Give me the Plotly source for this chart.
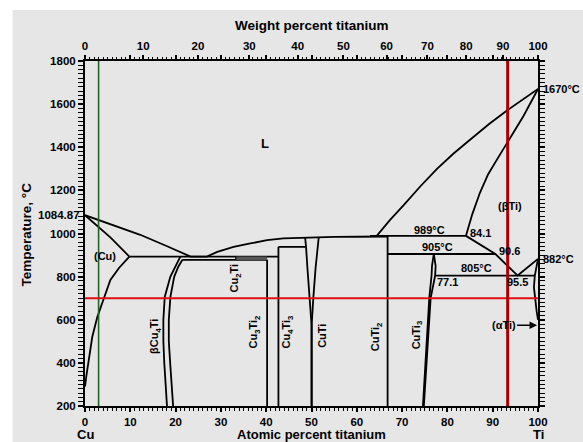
import plotly.graph_objects as go

# ---- Cu–Ti phase boundaries (x: atomic % Ti, t: temperature °C) ----
liq_cu_x = [0, 6, 12.2, 18, 23.3]
liq_cu_t = [1084.87, 1040, 994, 942, 893]

sol_cu_x = [0, 5.6, 9.8]
sol_cu_t = [1084.87, 982, 893]

solv_cu_x = [9.8, 7.5, 5.6, 4.2, 2.7, 1.6, 0.85, 0.3, 0]
solv_cu_t = [893, 840, 785, 705, 612, 520, 427, 340, 290]

liq_mid_x = [23.3, 26.9, 29.2, 32.8, 36.5, 40.2, 43.8, 47.5, 50, 55, 60, 66.8]
liq_mid_t = [893, 893, 915, 938, 954, 969, 977, 980, 982, 984, 985, 986]

liq_ti_x = [64.4, 67.3, 70.3, 74.0, 77.7, 81.3, 85.0, 89.2, 93.45, 96.8, 100]
liq_ti_t = [989, 1062, 1130, 1218, 1300, 1370, 1435, 1508, 1575, 1625, 1670]

sol_ti_x = [84.1, 85.5, 87.2, 89.0, 91.0, 93.3, 96.8, 100]
sol_ti_t = [989, 1090, 1190, 1275, 1345, 1422, 1545, 1670]

beta_x = [84.1, 90.6, 95.5, 100]
beta_t = [989, 905, 805, 882]

alpha_x = [100, 99.3, 99.1, 99.3, 99.7, 100]
alpha_t = [882, 805, 750, 700, 640, 600]

bcu4_l_x = [21.05, 20.0, 18.85, 17.6, 17.3, 17.3, 17.5, 18.1]
bcu4_l_t = [893, 846, 800, 706, 600, 500, 400, 200]
bcu4_r_x = [21.5, 20.6, 19.7, 18.85, 18.5, 18.5, 18.8, 19.45]
bcu4_r_t = [878, 846, 800, 706, 600, 500, 400, 200]

cuti_l_x = [48.6, 48.8, 49.1, 49.6, 50.0, 50.0]
cuti_l_t = [979, 938, 840, 700, 580, 200]
cuti_r_x = [51.6, 51.2, 50.9, 50.4, 50.05, 50.05]
cuti_r_t = [983, 900, 840, 700, 580, 200]

cuti3_l_x = [77.0, 76.6, 76.5, 76.3, 76.0, 74.6]
cuti3_l_t = [905, 850, 805, 760, 700, 200]
cuti3_r_x = [77.0, 77.4, 77.3, 76.9, 76.3, 74.8]
cuti3_r_t = [905, 850, 805, 760, 700, 200]

# isotherms: (x_start, x_end, temperature)
iso_x0 = [9.8, 21.5, 42.7, 62.9, 66.8, 77.3]
iso_x1 = [42.7, 40.2, 48.8, 84.1, 90.6, 99.3]
iso_t = [893, 878, 938, 989, 905, 805]

# line compounds: (x, top temperature)
comp_x = [40.2, 42.7, 66.8]
comp_top = [878, 938, 989]

cu2ti_x = [33.3, 40.2]
cu2ti_t = [885, 885]

# reference lines
green_x = 3.0
red_x = 93.3
red_t = 700

# axes
at_ticks = list(range(0, 101, 10))
wt_ticks = list(range(0, 101, 10))
t_ticks = list(range(200, 1801, 200))
t_cu_melt = 1084.87

M_CU, M_TI = 63.546, 47.867


def wt_to_at(w):
    n_ti = w / M_TI
    n_cu = (100 - w) / M_CU
    return 100 * n_ti / (n_ti + n_cu)


BLACK = dict(color="black", width=1.8)
fig = go.Figure()


def line(x, y, style=BLACK):
    fig.add_trace(go.Scatter(x=x, y=y, mode="lines", line=style,
                             hoverinfo="skip", showlegend=False))


for xs, ts in [(liq_cu_x, liq_cu_t), (sol_cu_x, sol_cu_t), (solv_cu_x, solv_cu_t),
               (liq_mid_x, liq_mid_t), (liq_ti_x, liq_ti_t), (sol_ti_x, sol_ti_t),
               (beta_x, beta_t), (alpha_x, alpha_t),
               (bcu4_l_x, bcu4_l_t), (bcu4_r_x, bcu4_r_t),
               (cuti_l_x, cuti_l_t), (cuti_r_x, cuti_r_t),
               (cuti3_l_x, cuti3_l_t), (cuti3_r_x, cuti3_r_t)]:
    line(xs, ts)

for a, b, t in zip(iso_x0, iso_x1, iso_t):
    line([a, b], [t, t])

for x, top in zip(comp_x, comp_top):
    line([x, x], [top, 200])

line(cu2ti_x, cu2ti_t, dict(color="#555555", width=3.5))
line([cu2ti_x[0], cu2ti_x[0]], [878, 893], dict(color="black", width=1.2))

# overlay reference lines
line([green_x, green_x], [200, 1800], dict(color="#236223", width=1.6))
line([0, 100], [red_t, red_t], dict(color="#e01010", width=2))
line([red_x, red_x], [200, 1800], dict(color="#a80000", width=3))

# invisible trace that activates the weight-percent axis on top
fig.add_trace(go.Scatter(x=[0, 100], y=[200, 200], xaxis="x2", mode="markers",
                         marker=dict(opacity=0), hoverinfo="skip", showlegend=False))

FONT = dict(family="Liberation Sans, Arial, sans-serif", color="black")
TICKFONT = dict(FONT, size=11.5, weight="bold")


def label(text, x, t, size=11, angle=0, **kw):
    fig.add_annotation(x=x, y=t, text=text, showarrow=False, textangle=angle,
                       font=dict(FONT, size=size, weight="bold"),
                       xanchor=kw.pop("xanchor", "center"),
                       yanchor=kw.pop("yanchor", "middle"), **kw)


label("L", 39.8, 1418, size=13)
label("(Cu)", 4.5, 895)
label("(βTi)", 93.9, 1127)
label("989°C", 76.1, 1016)
label("84.1", 87.2, 1003)
label("905°C", 77.9, 938)
label("90.6", 93.6, 918)
label("805°C", 86.5, 838)
label("77.1", 80.0, 776)
label("95.5", 95.5, 776)
label("1670°C", 100, 1670, xanchor="left", xshift=3)
label("882°C", 100, 882, xanchor="left", xshift=3)
label("1084.87", 0, t_cu_melt, size=11.5, xanchor="right", xshift=-3)
label("Cu<sub>2</sub>Ti", 33.2, 793, angle=-90)
label("βCu<sub>4</sub>Ti", 15.5, 521, angle=-90)
label("Cu<sub>3</sub>Ti<sub>2</sub>", 37.4, 543, angle=-90)
label("Cu<sub>4</sub>Ti<sub>3</sub>", 44.7, 543, angle=-90)
label("CuTi", 52.3, 525, angle=-90)
label("CuTi<sub>2</sub>", 64.3, 520, angle=-90)
label("CuTi<sub>3</sub>", 73.3, 528, angle=-90)

fig.add_annotation(x=99.8, y=575, ax=92.4, ay=575, axref="x", ayref="y",
                   text="(αTi)", showarrow=True, arrowhead=2, arrowsize=1,
                   arrowwidth=1.5, arrowcolor="black",
                   font=dict(FONT, size=11, weight="bold"))

# axis titles and end-member labels
TITLE = dict(FONT, size=13.5, weight="bold")
fig.add_annotation(xref="paper", yref="paper", x=0.5, y=1.104, text="Weight percent titanium",
                   showarrow=False, font=TITLE, xanchor="center", yanchor="middle")
BOTTOM = dict(FONT, size=13, weight="bold")
for txt, xp in [("Atomic percent titanium", 0.5), ("Cu", 0.0), ("Ti", 1.0)]:
    fig.add_annotation(xref="paper", yref="paper", x=xp, y=-0.0835, text=txt,
                       showarrow=False, font=BOTTOM, xanchor="center", yanchor="middle")
fig.add_annotation(xref="paper", yref="paper", x=-0.128, y=0.497, text="Temperature, °C",
                   showarrow=False, font=TITLE, textangle=-90,
                   xanchor="center", yanchor="middle")

AX = dict(showgrid=False, zeroline=False, showline=True, linecolor="black",
          linewidth=2, ticks="outside", ticklen=5, tickwidth=1.5,
          tickcolor="black", tickfont=TICKFONT)

fig.update_layout(
    width=583, height=442,
    margin=dict(l=85, r=45, t=61, b=36, autoexpand=False),
    paper_bgcolor="#e6e6e6", plot_bgcolor="#e6e6e6",
    showlegend=False,
    xaxis=dict(AX, range=[0, 100], tickmode="array", tickvals=at_ticks,
               mirror="allticks", ticklen=4,
               minor=dict(tickmode="linear", tick0=0, dtick=1, ticks="outside",
                          ticklen=2.5, tickwidth=1, tickcolor="black")),
    xaxis2=dict(AX, range=[0, 100], overlaying="x", side="top", anchor="y",
                showline=False, tickmode="array",
                tickvals=[wt_to_at(w) for w in wt_ticks],
                ticktext=[str(w) for w in wt_ticks]),
    yaxis=dict(AX, range=[200, 1800], tickmode="array",
               tickvals=t_ticks, ticktext=[str(t) for t in t_ticks],
               mirror="allticks",
               minor=dict(tickmode="linear", tick0=200, dtick=20, ticks="outside",
                          ticklen=2.5, tickwidth=1, tickcolor="black")),
    shapes=[
        dict(type="rect", xref="paper", yref="paper", x0=-0.2, x1=1.2,
             y0=1.148, y1=1.2, fillcolor="white", line=dict(width=0), layer="above"),
        dict(type="rect", xref="paper", yref="paper", x0=-0.2, x1=-0.1599,
             y0=-0.2, y1=1.2, fillcolor="white", line=dict(width=0), layer="above"),
    ],
)

fig.write_html("out.html")
